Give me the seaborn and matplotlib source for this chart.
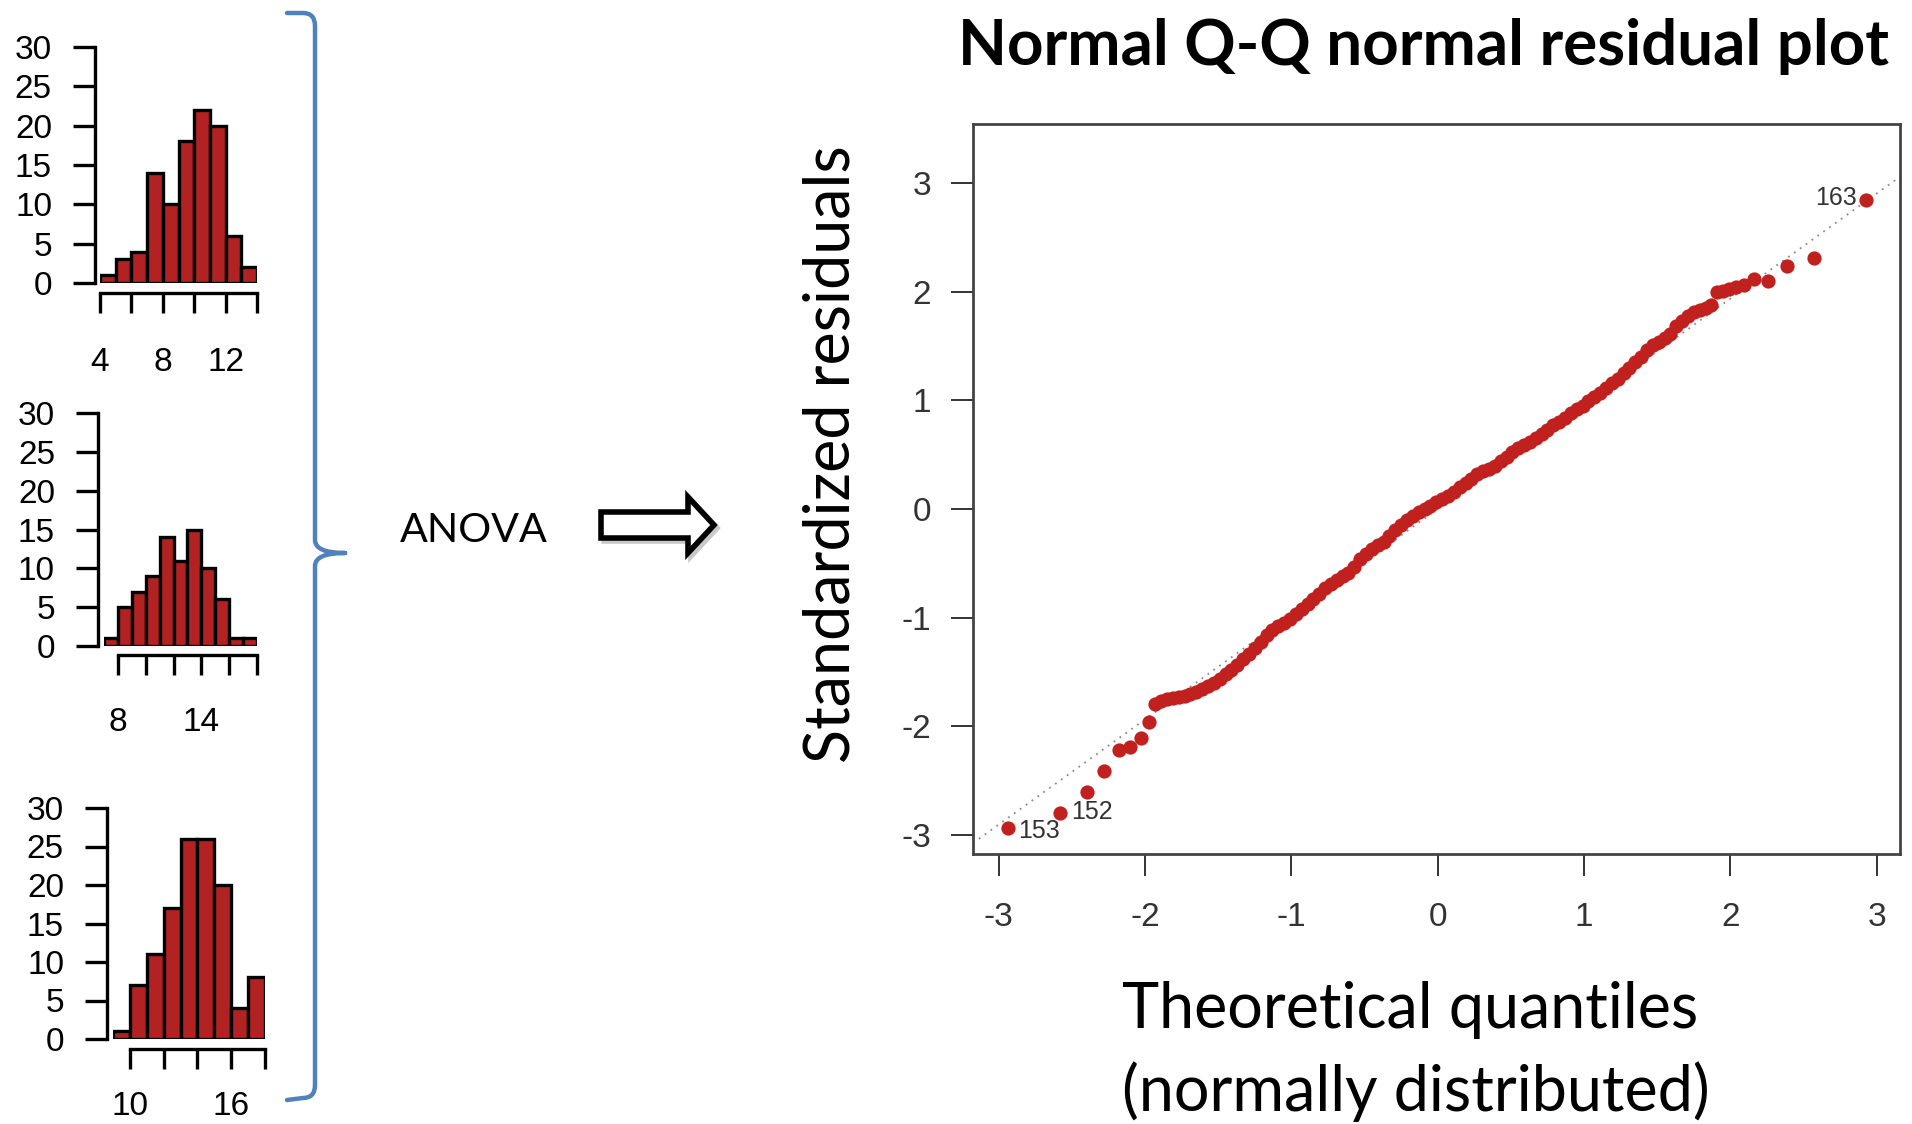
import numpy as np
import pandas as pd
import matplotlib
matplotlib.use("Agg")
import matplotlib.pyplot as plt
from matplotlib.path import Path
from matplotlib.patches import PathPatch, Polygon
import seaborn as sns

# ---------------- data ----------------
hist1_edges = [4, 5, 6, 7, 8, 9, 10, 11, 12, 13, 14]
hist1_counts = [1, 3, 4, 14, 10, 18, 22, 20, 6, 2]
hist1_xticks = [4, 6, 8, 10, 12, 14]
hist1_xticklabels = ["4", "", "8", "", "12", ""]

hist2_edges = [7, 8, 9, 10, 11, 12, 13, 14, 15, 16, 17, 18]
hist2_counts = [1, 5, 7, 9, 14, 11, 15, 10, 6, 1, 1]
hist2_xticks = [8, 10, 12, 14, 16, 18]
hist2_xticklabels = ["8", "", "", "14", "", ""]

hist3_edges = [9, 10, 11, 12, 13, 14, 15, 16, 17, 18]
hist3_counts = [1, 7, 11, 17, 26, 26, 20, 4, 8]
hist3_xticks = [10, 12, 14, 16, 18]
hist3_xticklabels = ["10", "", "", "16", ""]

hist_yticks = [0, 5, 10, 15, 20, 25, 30]

qq_theoretical = [
    -2.94, -2.58, -2.40, -2.28, -2.18, -2.10, -2.03, -1.97, -1.93,
    -1.89, -1.85, -1.81, -1.77, -1.73, -1.69, -1.65, -1.61, -1.57, -1.53,
    -1.49, -1.45, -1.41, -1.37, -1.33, -1.29, -1.25, -1.21, -1.17, -1.13,
    -1.09, -1.05, -1.01, -0.97, -0.93, -0.89, -0.85, -0.81, -0.77, -0.73,
    -0.69, -0.65, -0.61, -0.57, -0.53, -0.49, -0.45, -0.41, -0.37, -0.33,
    -0.29, -0.25, -0.21, -0.17, -0.13, -0.09, -0.05, -0.01, 0.03, 0.07,
    0.11, 0.15, 0.19, 0.23, 0.27, 0.31, 0.35, 0.39, 0.43, 0.47,
    0.51, 0.55, 0.59, 0.63, 0.67, 0.71, 0.75, 0.79, 0.83, 0.87,
    0.91, 0.95, 0.99, 1.03, 1.07, 1.11, 1.15, 1.19, 1.23, 1.27,
    1.31, 1.35, 1.39, 1.43, 1.47, 1.51, 1.55, 1.59, 1.63, 1.67,
    1.71, 1.75, 1.79, 1.83, 1.87,
    1.91, 1.95, 1.99, 2.04, 2.09, 2.16, 2.26, 2.39, 2.57, 2.93,
]
qq_residuals = [
    -2.94, -2.80, -2.60, -2.41, -2.22, -2.19, -2.11, -1.96, -1.79,
    -1.77, -1.75, -1.74, -1.73, -1.72, -1.70, -1.68, -1.66, -1.63, -1.60,
    -1.56, -1.52, -1.48, -1.44, -1.38, -1.33, -1.28, -1.22, -1.16, -1.11,
    -1.08, -1.05, -1.01, -0.97, -0.92, -0.87, -0.83, -0.78, -0.73, -0.69,
    -0.65, -0.62, -0.59, -0.53, -0.46, -0.41, -0.37, -0.33, -0.30, -0.25,
    -0.19, -0.15, -0.10, -0.06, -0.03, 0.00, 0.03, 0.06, 0.09, 0.12,
    0.16, 0.20, 0.24, 0.28, 0.32, 0.35, 0.37, 0.40, 0.44, 0.48,
    0.52, 0.56, 0.59, 0.62, 0.65, 0.69, 0.73, 0.77, 0.80, 0.84,
    0.88, 0.92, 0.95, 0.99, 1.03, 1.07, 1.11, 1.16, 1.20, 1.25,
    1.30, 1.35, 1.40, 1.46, 1.51, 1.54, 1.57, 1.61, 1.68, 1.73,
    1.78, 1.81, 1.83, 1.85, 1.88,
    2.00, 2.01, 2.02, 2.04, 2.06, 2.12, 2.10, 2.24, 2.31, 2.84,
]
qq_point_labels = ["153", "152", "163"]
qq_label_index = [0, 1, -1]
qq_ticks = [-3, -2, -1, 0, 1, 2, 3]
qq_ticklabels = ["-3", "-2", "-1", "0", "1", "2", "3"]
qq_line_slope = 0.968
qq_line_intercept = 0.0

title_text = "Normal Q-Q normal residual plot"
ylabel_text = "Standardized residuals"
xlabel_line1 = "Theoretical quantiles"
xlabel_line2 = "(normally distributed)"
anova_text = "ANOVA"

# ---------------- style ----------------
sns.set_style("white")
plt.rcParams["font.family"] = ["Liberation Sans", "DejaVu Sans"]
SLIDE_FONT = ["Lato", "DejaVu Sans"]
BAR_COLOR = "#B22222"
POINT_COLOR = "#C0201E"
BRACE_COLOR = "#4F81BD"

W, H = 1912, 1124
fig = plt.figure(figsize=(W / 100, H / 100), dpi=100)
PX = 72 / 100  # points per pixel


def px_rect(l, t, r, b):
    return [l / W, 1 - b / H, (r - l) / W, (b - t) / H]


# overlay axes in pixel coordinates for slide decorations
ov = fig.add_axes([0, 0, 1, 1])
ov.set_xlim(0, W)
ov.set_ylim(H, 0)
ov.axis("off")

# ---------------- histograms ----------------
hist_specs = [
    (hist1_edges, hist1_counts, hist1_xticks, hist1_xticklabels, (100, 47, 257, 283), 5, 10, 34),
    (hist2_edges, hist2_counts, hist2_xticks, hist2_xticklabels, (104, 413, 257, 646), 6, 9, 32),
    (hist3_edges, hist3_counts, hist3_xticks, hist3_xticklabels, (113, 808, 265, 1039), 6, 10, 22),
]
for edges, counts, xt, xtl, rect, loff, boff, xpad in hist_specs:
    ax = fig.add_axes(px_rect(*rect))
    centers = [(a + b) / 2 for a, b in zip(edges[:-1], edges[1:])]
    df = pd.DataFrame({"x": centers, "n": counts})
    sns.histplot(data=df, x="x", weights="n", bins=edges, ax=ax,
                 color=BAR_COLOR, edgecolor="black", linewidth=2.4, alpha=1)
    ax.set_xlim(edges[0], edges[-1])
    ax.set_ylim(0, 30)
    ax.set_xlabel("")
    ax.set_ylabel("")
    ax.patch.set_alpha(0)
    for s in ["top", "right"]:
        ax.spines[s].set_visible(False)
    ax.spines["left"].set_position(("outward", loff * PX))
    ax.spines["bottom"].set_position(("outward", boff * PX))
    ax.spines["left"].set_bounds(0, 30)
    ax.spines["bottom"].set_bounds(xt[0], xt[-1])
    for s in ["left", "bottom"]:
        ax.spines[s].set_linewidth(2.4)
        ax.spines[s].set_color("black")
    ax.set_yticks(hist_yticks)
    ax.set_yticklabels([str(v) for v in hist_yticks])
    ax.set_xticks(xt)
    ax.set_xticklabels(xtl)
    ax.tick_params(axis="y", direction="out", length=22 * PX, width=2.4,
                   pad=21 * PX, labelsize=24, colors="black", left=True)
    ax.tick_params(axis="x", direction="out", length=20 * PX, width=2.4,
                   pad=xpad * PX, labelsize=24, colors="black", bottom=True)
    ax.grid(False)

# ---------------- QQ plot ----------------
qa = fig.add_axes(px_rect(973, 124, 1900, 854))
qq_df = pd.DataFrame({"theoretical": qq_theoretical, "residual": qq_residuals})
qa.axline((0, qq_line_intercept), slope=qq_line_slope, color="#8a8a8a",
          ls=(0, (1, 3)), lw=1.3, zorder=1)
sns.scatterplot(data=qq_df, x="theoretical", y="residual", ax=qa,
                color=POINT_COLOR, s=105, linewidth=0, zorder=3)
qa.set_xlim(-3.176, 3.159)
qa.set_ylim(-3.175, 3.543)
qa.set_xlabel("")
qa.set_ylabel("")
qa.set_xticks(qq_ticks)
qa.set_xticklabels(qq_ticklabels)
qa.set_yticks(qq_ticks)
qa.set_yticklabels(qq_ticklabels)
for s in qa.spines.values():
    s.set_visible(True)
    s.set_color("#444444")
    s.set_linewidth(2.0)
qa.tick_params(axis="both", direction="out", length=22 * PX, width=1.4,
               colors="#333333", labelsize=24)
qa.tick_params(axis="y", pad=20 * PX, left=True)
qa.tick_params(axis="x", pad=26 * PX, bottom=True)
qa.grid(False)

offsets = {"153": (11 * PX, -3 * PX, "left"),
           "152": (11 * PX, 1 * PX, "left"),
           "163": (-10 * PX, 2 * PX, "right")}
for lab, idx in zip(qq_point_labels, qq_label_index):
    dx, dy, ha = offsets[lab]
    qa.annotate(lab, (qq_theoretical[idx], qq_residuals[idx]),
                xytext=(dx, dy), textcoords="offset points",
                ha=ha, va="center", fontsize=18, color="#333333")

# ---------------- slide texts ----------------
renderer = fig.canvas.get_renderer()


def fit_width(t, target, vertical=False):
    bb = t.get_window_extent(renderer)
    cur = bb.height if vertical else bb.width
    t.set_fontsize(t.get_fontsize() * target / cur)


t_title = ov.text(958, 65, title_text, ha="left", va="baseline",
                  fontsize=36, fontweight="bold", family=SLIDE_FONT, color="black")
fit_width(t_title, 928)

t_ylab = ov.text(850, 454, ylabel_text, ha="center", va="baseline",
                 rotation=90, rotation_mode="anchor", fontsize=36,
                 family=SLIDE_FONT, color="black")
fit_width(t_ylab, 619, vertical=True)

t_x1 = ov.text(1122, 1028, xlabel_line1, ha="left", va="baseline",
               fontsize=36, family=SLIDE_FONT, color="black")
fit_width(t_x1, 577)
t_x2 = ov.text(1122, 1111, xlabel_line2, ha="left", va="baseline",
               fontsize=t_x1.get_fontsize(), family=SLIDE_FONT, color="black")

t_an = ov.text(400, 542, anova_text, ha="left", va="baseline",
               fontsize=28, family=SLIDE_FONT, color="black")
fit_width(t_an, 148)

# ---------------- brace ----------------
brace_verts = [
    (287, 13), (303, 13), (315, 13), (315, 26), (315, 540), (315, 553), (345, 553),
    (345, 553), (315, 553), (315, 566), (315, 1085), (315, 1098), (303, 1098), (287, 1100),
]
brace_codes = [
    Path.MOVETO, Path.LINETO, Path.CURVE3, Path.CURVE3, Path.LINETO, Path.CURVE3, Path.CURVE3,
    Path.MOVETO, Path.CURVE3, Path.CURVE3, Path.LINETO, Path.CURVE3, Path.CURVE3, Path.LINETO,
]
ov.add_patch(PathPatch(Path(brace_verts, brace_codes), fc="none",
                       ec=BRACE_COLOR, lw=3.2, capstyle="round", joinstyle="round"))

# ---------------- hollow arrow ----------------
arrow_pts = [(601, 512), (688, 512), (688, 497), (714, 525), (688, 553), (688, 538), (601, 538)]
ov.add_patch(Polygon([(x + 3, y + 3) for x, y in arrow_pts], closed=True,
                     fc="none", ec="#c8c8c8", lw=4, joinstyle="miter"))
ov.add_patch(Polygon(arrow_pts, closed=True, fc="white", ec="black", lw=4,
                     joinstyle="miter"))

fig.savefig("out.png", dpi=100)
